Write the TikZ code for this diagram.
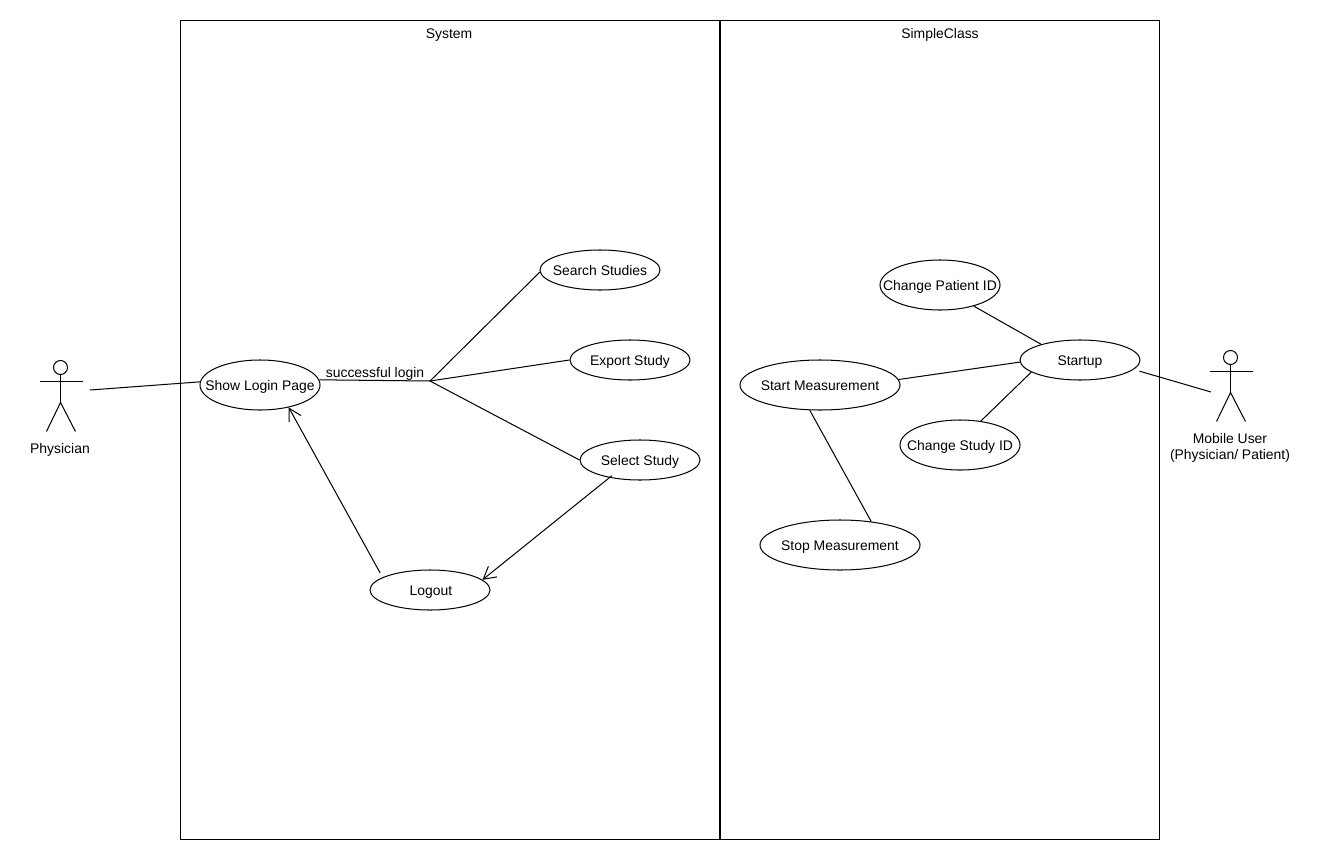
\documentclass[tikz,border=0pt]{standalone}
\usepackage{fontspec}
\setmainfont{Liberation Sans}
\usetikzlibrary{shapes.geometric,arrows.meta}

\tikzset{
  usecase/.style={draw,ellipse,inner sep=0pt,minimum width=3cm,minimum height=1cm},
  wideuse/.style={usecase,minimum width=4cm,minimum height=1.25cm},
  talluse/.style={usecase,minimum height=1.25cm},
  label/.style={inner sep=0pt,align=center},
  open/.style={-{Straight Barb[length=3mm,width=3.4mm]}}
}
\newcommand{\stickman}[2]{% x, y of the head centre
  \draw (#1,#2) circle (7);
  \draw (#1,#2+7) -- (#1,#2+35);
  \draw (#1-21,#2+14) -- (#1+22,#2+14);
  \draw (#1-14,#2+64) -- (#1,#2+35) -- (#1+15,#2+64);
}
\newcommand{\uc}[1]{\raisebox{-4pt}[0pt][0pt]{\makebox[0pt]{#1}}}

\begin{document}
\begin{tikzpicture}[x=0.025cm,y=-0.025cm,line width=0.72pt,font=\fontsize{9.9}{11.4}\selectfont]
  \useasboundingbox (0,0) rectangle (1320,860);
  \fill[white] (0,0) rectangle (1320,860);

  \node[draw,minimum width=13.475cm,minimum height=20.475cm,inner sep=0pt] (system) at (450,430) {};
  \node[draw,minimum width=10.975cm,minimum height=20.475cm,inner sep=0pt] (simple) at (940,430) {};
  \node[label] (systitle) at (449,35) {System};
  \node[label] (simtitle) at (940,34.5) {SimpleClass};

  %% left part
  \stickman{60.5}{367.5}
  \node[label] (physician) at (60,450) {Physician};
  \coordinate (physhand) at (90,390);
  \node[talluse] (login) at (260,385) {\uc{Show Login Page}};
  \node[usecase] (search) at (600,270) {\uc{Search Studies}};
  \node[usecase] (export) at (630,360) {\uc{Export Study}};
  \node[usecase] (select) at (640,460) {\uc{Select Study}};
  \node[usecase] (logout) at (430,590) {\uc{\hspace{1.4pt}Logout}};
  \coordinate (fork) at (430,381);
  \node[label] (loginlabel) at (375,374) {successful login};

  \draw (physhand) -- (login.177);
  \draw (login.5) -- (fork);
  \draw (fork) -- (search.182);
  \draw (fork) -- (export.west);
  \draw (fork) -- (select.west);
  \draw[open,shorten <=-0.08cm] (select.210) -- (logout.11);
  \draw[open,shorten <=0.125cm] (logout.165) -- (login.-38);

  %% right part
  \stickman{1230.5}{357.5}
  \node[label] (mobile) at (1230,447.5) {Mobile User\\(Physician/ Patient)};
  \coordinate (mobilehand) at (1211,392);
  \node[usecase] (startup) at (1080,360) {\uc{Startup}};
  \node[talluse] (patient) at (940,285) {\uc{Change Patient ID}};
  \node[talluse] (study) at (960,445) {\uc{Change Study ID}};
  \node[wideuse] (start) at (820,385) {\uc{Start Measurement}};
  \node[wideuse] (stop) at (840,545) {\uc{Stop Measurement}};

  \draw (patient.-32) -- (startup.158);
  \draw (start.4) -- (startup.182);
  \draw (study.49) -- (startup.194);
  \draw (start.248) -- (stop.37);
  \draw[shorten <=0.15cm] (startup.-10) -- (mobilehand);
\end{tikzpicture}
\end{document}
